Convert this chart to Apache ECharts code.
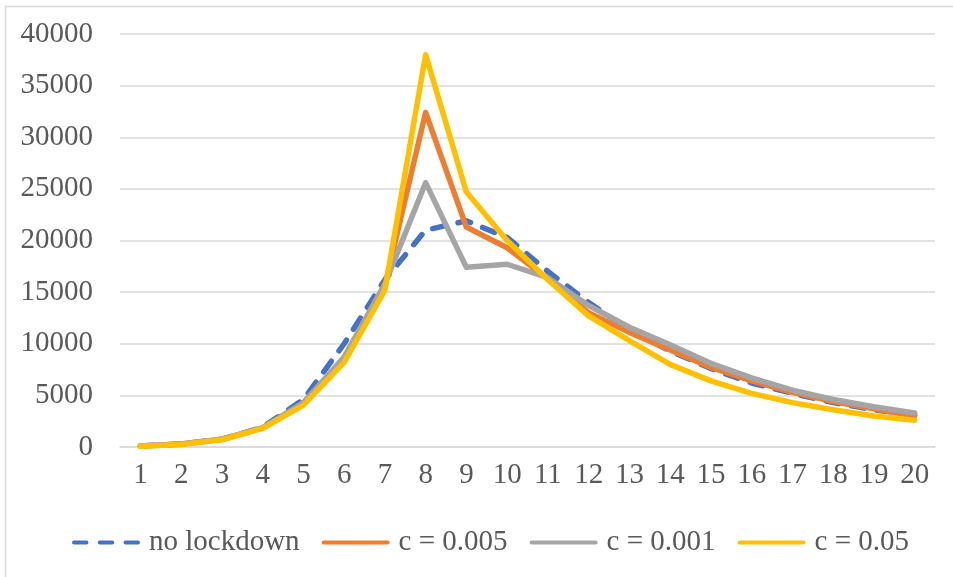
<!DOCTYPE html>
<html>
<head>
<meta charset="utf-8">
<script src="https://cdn.jsdelivr.net/npm/echarts@6/dist/echarts.min.js"></script>
<style>
html,body{margin:0;padding:0;background:#fff;}
#chart{width:953px;height:577px;}
</style>
</head>
<body>
<div id="chart"></div>
<script>
var categories = ['1','2','3','4','5','6','7','8','9','10','11','12','13','14','15','16','17','18','19','20'];
var yTicks = [0, 5000, 10000, 15000, 20000, 25000, 30000, 35000, 40000];
var noLockdown = [100, 300, 750, 1900, 4600, 10000, 16200, 21000, 21900, 20300, 17000, 14000, 11300, 9300, 7600, 6200, 5200, 4300, 3600, 3100];
var c0005 = [100, 300, 750, 1850, 4200, 8500, 15600, 32400, 21300, 19300, 16300, 13000, 11100, 9400, 7700, 6400, 5300, 4400, 3700, 3000];
var c0001 = [100, 300, 750, 1850, 4300, 8700, 15800, 25600, 17400, 17700, 16400, 13700, 11600, 9900, 8100, 6700, 5500, 4600, 3900, 3300];
var c005 = [80, 250, 700, 1800, 4050, 8200, 15200, 38000, 24700, 20000, 16200, 12700, 10300, 8000, 6400, 5200, 4300, 3600, 3000, 2600];
var seriesNames = ['no lockdown', 'c = 0.005', 'c = 0.001', 'c = 0.05'];
var colors = ['#4472C4', '#ED7D31', '#A5A5A5', '#FFC000'];

var font = '"Liberation Serif", "Times New Roman", serif';
var chart = echarts.init(document.getElementById('chart'));
function mk(name, data, color, dashed) {
  return {
    name: name, type: 'line', data: data, symbol: 'none', smooth: false,
    lineStyle: { color: color, width: 5.5, type: dashed ? [13, 13] : 'solid', cap: 'round', join: 'round' },
    itemStyle: { color: color },
    emphasis: { disabled: true }
  };
}
var dashIcon = 'path://M2,0h12a2,2 0 0 1 0,4h-12a2,2 0 0 1 0,-4z M27,0h12a2,2 0 0 1 0,4h-12a2,2 0 0 1 0,-4z M52,0h12a2,2 0 0 1 0,4h-12a2,2 0 0 1 0,-4z';
var lineIcon = 'path://M2,0h62a2,2 0 0 1 0,4h-62a2,2 0 0 1 0,-4z';
chart.setOption({
  animation: false,
  backgroundColor: '#fff',
  color: colors,
  graphic: [{
    type: 'rect', left: 3, top: 4, shape: { width: 949, height: 580 },
    style: { fill: 'none', stroke: '#d9d9d9', lineWidth: 1.5 }, silent: true, z: -10
  }],
  grid: { left: 120, right: 18, top: 34, bottom: 130 },
  xAxis: {
    type: 'category', data: categories, boundaryGap: true,
    axisLine: { show: true, lineStyle: { color: '#d9d9d9', width: 1.5 } },
    axisTick: { show: false },
    axisLabel: { color: '#595959', fontFamily: font, fontSize: 29, margin: 14 },
    splitLine: { show: false }
  },
  yAxis: {
    type: 'value', min: yTicks[0], max: yTicks[yTicks.length - 1], interval: yTicks[1] - yTicks[0],
    axisLine: { show: false }, axisTick: { show: false },
    axisLabel: { color: '#595959', fontFamily: font, fontSize: 29, margin: 27, formatter: function (v) { return String(v); } },
    splitLine: { lineStyle: { color: '#d9d9d9', width: 1.5 } }
  },
  legend: {
    left: 72, top: 528, padding: 0, itemWidth: 68, itemHeight: 5, itemGap: 22,
    textStyle: { color: '#595959', fontFamily: font, fontSize: 29, padding: [0, 0, 0, 4] },
    data: [
      { name: seriesNames[0], icon: dashIcon, itemStyle: { color: colors[0] } },
      { name: seriesNames[1], icon: lineIcon, itemStyle: { color: colors[1] } },
      { name: seriesNames[2], icon: lineIcon, itemStyle: { color: colors[2] } },
      { name: seriesNames[3], icon: lineIcon, itemStyle: { color: colors[3] } }
    ]
  },
  series: [
    mk(seriesNames[0], noLockdown, colors[0], true),
    mk(seriesNames[1], c0005, colors[1], false),
    mk(seriesNames[2], c0001, colors[2], false),
    mk(seriesNames[3], c005, colors[3], false)
  ]
});
</script>
</body>
</html>
